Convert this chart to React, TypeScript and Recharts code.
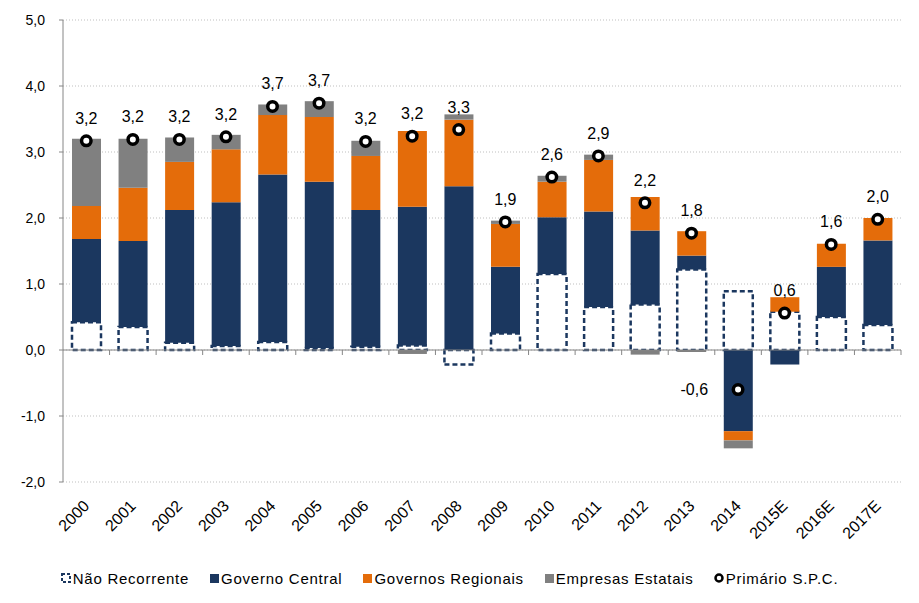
import {
  ComposedChart,
  Bar,
  Line,
  XAxis,
  YAxis,
  CartesianGrid,
  ReferenceLine,
  Legend,
  LabelList,
} from "recharts";

const years = [
  "2000", "2001", "2002", "2003", "2004", "2005", "2006", "2007", "2008",
  "2009", "2010", "2011", "2012", "2013", "2014", "2015E", "2016E", "2017E",
];
const naoRecorrente = [0.42, 0.35, 0.11, 0.06, 0.12, 0.03, 0.05, 0.07, -0.22, 0.25, 1.15, 0.65, 0.69, 1.22, 0.89, 0.58, 0.5, 0.38];
const governoCentral = [1.26, 1.3, 2.01, 2.18, 2.54, 2.52, 2.07, 2.1, 2.48, 1.01, 0.86, 1.45, 1.12, 0.21, -1.23, -0.22, 0.76, 1.28];
const governosRegionais = [0.5, 0.81, 0.73, 0.8, 0.9, 0.98, 0.82, 1.15, 1.01, 0.65, 0.54, 0.78, 0.51, 0.37, -0.14, 0.22, 0.35, 0.34];
const empresasEstatais = [1.02, 0.74, 0.37, 0.22, 0.16, 0.24, 0.23, -0.06, 0.08, 0.05, 0.09, 0.08, -0.07, -0.03, -0.12, 0, 0, 0];
const primario = [3.17, 3.19, 3.19, 3.23, 3.69, 3.74, 3.16, 3.24, 3.34, 1.94, 2.62, 2.94, 2.23, 1.77, -0.6, 0.56, 1.6, 1.98];
const yTicks = [-2, -1, 0, 1, 2, 3, 4, 5];

const NAVY = "#1B375F";
const ORANGE = "#E46C0A";
const GRAY = "#808080";
const AXIS = "#868686";
const FONT = '"Liberation Sans", Arial, sans-serif';

const data = years.map((year, i) => ({
  year,
  naoRecorrente: naoRecorrente[i],
  governoCentral: governoCentral[i],
  governosRegionais: governosRegionais[i],
  empresasEstatais: empresasEstatais[i],
  primario: primario[i],
}));

const fmt = (v: number) => v.toFixed(1).replace(".", ",");

function YearTick({ x, y, payload }: any) {
  const tx = x + 4;
  const ty = y + 17;
  return (
    <text
      x={tx}
      y={ty}
      transform={`rotate(-45, ${tx}, ${ty})`}
      textAnchor="end"
      fontSize={16}
      fill="#000"
      fontFamily={FONT}
    >
      {payload.value}
    </text>
  );
}

// zero line with small tick marks between the categories
function ZeroAxis({ x1, x2, y1 }: any) {
  const step = (x2 - x1) / years.length;
  return (
    <g>
      <line x1={x1} x2={x2} y1={y1} y2={y1} stroke={AXIS} strokeWidth={1} />
      {years.map((_, i) => (
        <line
          key={i}
          x1={x1 + step * (i + 1)}
          x2={x1 + step * (i + 1)}
          y1={y1}
          y2={y1 + 5}
          stroke={AXIS}
          strokeWidth={1}
        />
      ))}
    </g>
  );
}

function SpcLabel({ x, y, value }: any) {
  const neg = value < 0;
  return (
    <text
      x={neg ? x - 30 : x}
      y={neg ? y + 5 : y - 17}
      textAnchor={neg ? "end" : "middle"}
      fontSize={16}
      fill="#000"
      fontFamily={FONT}
    >
      {fmt(value)}
    </text>
  );
}

const legendItems = [
  { label: "Não Recorrente", kind: "dash" },
  { label: "Governo Central", color: NAVY },
  { label: "Governos Regionais", color: ORANGE },
  { label: "Empresas Estatais", color: GRAY },
  { label: "Primário S.P.C.", kind: "dot" },
];

function LegendContent() {
  return (
    <div
      style={{
        display: "flex",
        justifyContent: "center",
        alignItems: "center",
        height: 30,
        fontSize: 15,
        letterSpacing: 0.75,
        color: "#000",
        fontFamily: FONT,
      }}
    >
      {legendItems.map((item) => (
        <div key={item.label} style={{ display: "flex", alignItems: "center", marginRight: 20 }}>
          <svg width={10} height={10} style={{ marginRight: 2 }}>
            {item.kind === "dash" ? (
              <rect x={1} y={1} width={8} height={8} fill="#fff" stroke={NAVY} strokeWidth={2} strokeDasharray="3 2" />
            ) : item.kind === "dot" ? (
              <circle cx={5} cy={5} r={3.5} fill="#fff" stroke="#000" strokeWidth={2.5} />
            ) : (
              <rect x={1} y={1} width={9} height={9} fill={item.color} />
            )}
          </svg>
          <span>{item.label}</span>
        </div>
      ))}
    </div>
  );
}

export default function App() {
  return (
    <div style={{ position: "absolute", left: 0, top: 0, fontFamily: FONT }}>
      <ComposedChart
        width={919}
        height={603}
        data={data}
        stackOffset="sign"
        margin={{ top: 20, right: 18, left: 0, bottom: 10 }}
      >
        <CartesianGrid vertical={false} stroke="#BFBFBF" strokeDasharray="1 2" />
        <XAxis
          dataKey="year"
          interval={0}
          axisLine={false}
          tickLine={false}
          height={81}
          tick={<YearTick />}
        />
        <YAxis
          domain={[-2, 5]}
          ticks={yTicks}
          width={63}
          tickFormatter={fmt}
          axisLine={{ stroke: AXIS }}
          tickLine={{ stroke: AXIS }}
          tickSize={4}
          tickMargin={14}
          tick={{ fontSize: 14, fill: "#000", fontFamily: FONT }}
        />
        <Bar
          dataKey="naoRecorrente"
          stackId="a"
          barSize={29}
          fill="#fff"
          stroke={NAVY}
          strokeWidth={2.5}
          strokeDasharray="5 3"
          isAnimationActive={false}
        />
        <Bar dataKey="governoCentral" stackId="a" barSize={29} fill={NAVY} isAnimationActive={false} />
        <Bar dataKey="governosRegionais" stackId="a" barSize={29} fill={ORANGE} isAnimationActive={false} />
        <Bar dataKey="empresasEstatais" stackId="a" barSize={29} fill={GRAY} isAnimationActive={false} />
        <ReferenceLine y={0} shape={<ZeroAxis />} />
        <Line
          dataKey="primario"
          stroke="none"
          dot={{ r: 4.75, fill: "#fff", stroke: "#000", strokeWidth: 3.5 }}
          activeDot={false}
          isAnimationActive={false}
        >
          <LabelList dataKey="primario" content={<SpcLabel />} />
        </Line>
        <Legend
          verticalAlign="bottom"
          content={<LegendContent />}
          wrapperStyle={{ left: 0, width: 919 }}
        />
      </ComposedChart>
    </div>
  );
}
